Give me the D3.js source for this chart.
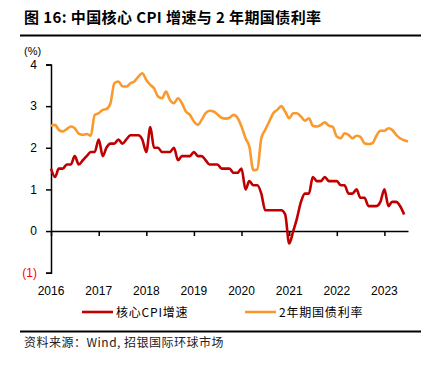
<!DOCTYPE html>
<html lang="zh">
<head>
<meta charset="utf-8">
<title>中国核心CPI增速与2年期国债利率</title>
<script src="https://d3js.org/d3.v7.min.js"></script>
<style>
  body { margin: 0; background: #fff; }
  text { font-family: "Liberation Sans", Arial, "Noto Sans CJK SC", sans-serif; }
  .cjk { font-family: "Noto Sans CJK SC", "Liberation Sans", sans-serif; }
</style>
</head>
<body>
<div id="chart"></div>
<script>
// monthly, Jan 2016 onwards
var startMonth = new Date(2016, 0, 1);
var coreCpi = [
  1.5, 1.3, 1.5, 1.5, 1.6, 1.6, 1.8, 1.6, 1.7, 1.8, 1.9, 1.9,
  2.2, 1.8, 2.0, 2.1, 2.1, 2.2, 2.1, 2.2, 2.3, 2.3, 2.3, 2.2,
  1.9, 2.5, 2.0, 2.0, 1.9, 1.9, 1.9, 2.0, 1.7, 1.8, 1.8, 1.8,
  1.9, 1.8, 1.8, 1.7, 1.6, 1.6, 1.6, 1.5, 1.5, 1.5, 1.4, 1.4,
  1.5, 1.0, 1.2, 1.1, 1.1, 0.9, 0.5, 0.5, 0.5, 0.5, 0.5, 0.4,
  -0.3, 0.0, 0.3, 0.7, 0.9, 0.9, 1.3, 1.2, 1.2, 1.3, 1.2, 1.2,
  1.2, 1.1, 1.1, 0.9, 0.9, 1.0, 0.8, 0.8, 0.6, 0.6, 0.6, 0.7,
  1.0, 0.6, 0.7, 0.7, 0.6, 0.4
];
var bond2y = [
  2.53, 2.55, 2.43, 2.39, 2.45, 2.51, 2.47, 2.34, 2.31, 2.33, 2.29, 2.79,
  2.83, 2.91, 2.93, 3.07, 3.55, 3.59, 3.48, 3.47, 3.55, 3.59, 3.71, 3.79,
  3.63, 3.51, 3.43, 3.23, 3.19, 3.35, 3.15, 3.07, 3.19, 3.07, 2.87, 2.79,
  2.63, 2.55, 2.67, 2.83, 2.89, 2.87, 2.80, 2.72, 2.70, 2.72, 2.79, 2.72,
  2.51, 2.23, 2.03, 1.46, 1.48, 2.23, 2.43, 2.63, 2.83, 2.91, 3.00, 2.87,
  2.71, 2.83, 2.83, 2.75, 2.65, 2.71, 2.53, 2.51, 2.55, 2.61, 2.53, 2.50,
  2.27, 2.23, 2.35, 2.31, 2.23, 2.29, 2.26, 2.11, 2.09, 2.11, 2.29, 2.41,
  2.41, 2.47, 2.43, 2.31, 2.23, 2.18, 2.15
];
var yTicks = [-1, 0, 1, 2, 3, 4];
var yearLabels = ["2016", "2017", "2018", "2019", "2020", "2021", "2022", "2023"];
var seriesNames = ["核心CPI增速", "2年期国债利率"];
var seriesColors = ["#C00000", "#FA992D"];

var w = 433, h = 372;
var svg = d3.select("#chart").append("svg")
  .attr("width", w)
  .attr("height", h);

// title and rules
svg.append("text").attr("class", "cjk")
  .attr("x", 24).attr("y", 23)
  .attr("font-size", 15).attr("font-weight", "bold")
  .attr("letter-spacing", 0.4)
  .text("图 16: 中国核心 CPI 增速与 2 年期国债利率");
svg.append("line").attr("x1", 20).attr("x2", 421).attr("y1", 35.5).attr("y2", 35.5)
  .attr("stroke", "#000").attr("stroke-width", 2);
svg.append("line").attr("x1", 20).attr("x2", 421).attr("y1", 331.5).attr("y2", 331.5)
  .attr("stroke", "#000").attr("stroke-width", 2);
svg.append("text").attr("class", "cjk")
  .attr("x", 24).attr("y", 347)
  .attr("font-size", 12).attr("fill", "#222")
  .attr("letter-spacing", 0.5)
  .text("资料来源：Wind, 招银国际环球市场");

var x = d3.scaleTime()
  .domain([new Date(2016, 0, 1), new Date(2023, 6, 1)])
  .range([51, 408]);
var y = d3.scaleLinear().domain([-1, 4]).range([272.7, 64.5]);

svg.append("text").attr("x", 24).attr("y", 55).attr("font-size", 11).text("(%)");

var yAxis = svg.append("g")
  .attr("transform", "translate(51,0)")
  .call(d3.axisLeft(y).tickValues(yTicks).tickSize(5).tickPadding(9)
    .tickFormat(function(d) { return d < 0 ? "(" + (-d) + ")" : d; }));
yAxis.select(".domain").attr("stroke-width", 1.5);
yAxis.selectAll(".tick line").attr("stroke-width", 1.5);
yAxis.selectAll(".tick text")
  .attr("font-size", 12)
  .attr("font-family", "Liberation Sans, Arial, sans-serif")
  .attr("fill", function(d) { return d < 0 ? "#FF0000" : "#000"; });

var yearDates = yearLabels.map(function(s) { return new Date(+s, 0, 1); });
var xAxis = svg.append("g")
  .attr("transform", "translate(0," + y(0) + ")")
  .call(d3.axisBottom(x).tickValues(yearDates).tickSize(5).tickSizeOuter(0).tickFormat(""));
xAxis.select(".domain").attr("stroke-width", 1.5);
xAxis.selectAll(".tick line").attr("stroke-width", 1.5);

svg.append("g").selectAll("text")
  .data(yearDates)
  .enter().append("text")
    .attr("x", function(d) { return x(d); })
    .attr("y", 295)
    .attr("text-anchor", "middle")
    .attr("font-size", 12)
    .text(function(d, i) { return yearLabels[i]; });

function toPoints(arr) {
  return arr.map(function(v, i) { return { date: d3.timeMonth.offset(startMonth, i), value: v }; });
}
var line = d3.line()
  .x(function(d) { return x(d.date); })
  .y(function(d) { return y(d.value); })
  .curve(d3.curveMonotoneX);

[bond2y, coreCpi].forEach(function(arr, k) {
  svg.append("path")
    .datum(toPoints(arr))
    .attr("fill", "none")
    .attr("stroke", seriesColors[1 - k])
    .attr("stroke-width", 2.6)
    .attr("stroke-linejoin", "round")
    .attr("d", line);
});

// legend
var legendX = [82, 245];
seriesNames.forEach(function(name, i) {
  svg.append("line")
    .attr("x1", legendX[i]).attr("x2", legendX[i] + 31)
    .attr("y1", 312).attr("y2", 312)
    .attr("stroke", seriesColors[i]).attr("stroke-width", 2.6);
  svg.append("text").attr("class", "cjk")
    .attr("x", legendX[i] + 34).attr("y", 316.5)
    .attr("font-size", 12)
    .attr("letter-spacing", 0.8)
    .text(name);
});
</script>
</body>
</html>
